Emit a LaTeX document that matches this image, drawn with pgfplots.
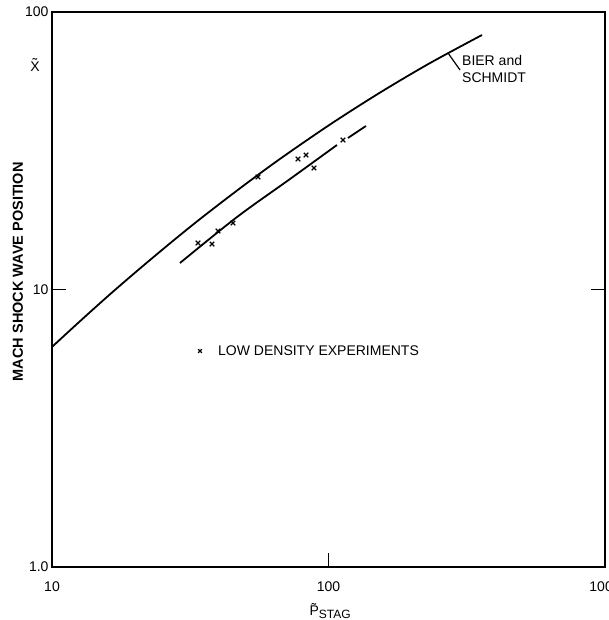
\documentclass[border=0pt]{standalone}
\usepackage{fontspec}
\setmainfont{Liberation Sans}
\usepackage{pgfplots}
\pgfplotsset{compat=1.18}

\begin{document}
\begin{tikzpicture}[font=\fontsize{14}{16}\selectfont]
\begin{axis}[
  xmode=log, ymode=log,
  scale only axis, width=553pt, height=555pt,
  xmin=10, xmax=1000, ymin=1, ymax=100,
  xtick={10,100,1000}, xticklabels={10,100,1000},
  ytick={1,10,100}, yticklabels={1.0,10,100},
  minor tick style={draw=none},
  minor tick length=0pt,
  xtick pos=bottom,
  tick align=inside,
  major tick length=14pt,
  axis line style={line width=1.8pt},
  every tick/.style={black, line width=1.6pt},
  ticklabel style={font=\fontsize{14}{16}\selectfont},
  /pgf/number format/assume math mode=true,
  xticklabel style={yshift=-11pt},
  clip=false,
]
\coordinate (sw) at (rel axis cs:0,0);
\coordinate (ne) at (rel axis cs:1,1);

% Bier and Schmidt curve
\addplot[black, line width=1.8pt, smooth] coordinates {
  (10,6.21) (12.63,7.69) (16.21,9.61) (20.81,11.91) (26.72,14.67)
  (34.29,17.94) (47.86,23.16) (66.77,29.55) (101.3,39.32)
  (153.6,51.24) (232.8,65.45) (359.1,82.62)
};

% fit through the low density experiments
\addplot[black, line width=1.8pt, smooth] coordinates {
  (29.03,12.46) (46.68,18.25) (72.58,25.01) (107.3,33.17)
};
\addplot[black, line width=1.8pt] coordinates {
  (117.6,35.16) (136.6,38.83)
};

% low density experiments
\addplot[only marks, mark=x, mark size=3.2pt, mark options={line width=1.3pt, black}] coordinates {
  (33.73,14.71) (37.91,14.58) (39.85,16.25) (45.14,17.36)
  (55.59,25.43) (77.56,29.53) (82.92,30.52) (88.62,27.41) (112.8,34.57)
};

% key
\addplot[only marks, mark=x, mark size=2.6pt, mark options={line width=1.2pt, black}] coordinates {(34.3,6.0)};
\node[anchor=west, inner sep=0pt] at (axis cs:39.85,6.0) {LOW DENSITY EXPERIMENTS};

% curve label with leader
\draw[line width=1.2pt] (axis cs:270.4,71.2) -- (axis cs:299,61.8);
\node[anchor=north west, inner sep=0pt, align=left, font=\fontsize{14}{17}\selectfont]
  at (axis cs:303.9,70.0) {BIER and\\SCHMIDT};

% axis titles
\path (rel axis cs:0,0.532) ++(-34pt,0pt)
  node[rotate=90, font=\bfseries\fontsize{14.5}{16}\selectfont] {MACH SHOCK WAVE POSITION};
\path (rel axis cs:0,1) ++(-17pt,-53pt) node {\~{X}};
\path (rel axis cs:0.503,0) ++(0pt,-44pt)
  node {\~{P}\raisebox{-3pt}{\fontsize{12}{14}\selectfont STAG}};
\end{axis}
\pgfresetboundingbox
\path[use as bounding box] ([shift={(-52pt,-53pt)}]sw) rectangle ([shift={(3pt,12pt)}]ne);
\end{tikzpicture}
\end{document}
